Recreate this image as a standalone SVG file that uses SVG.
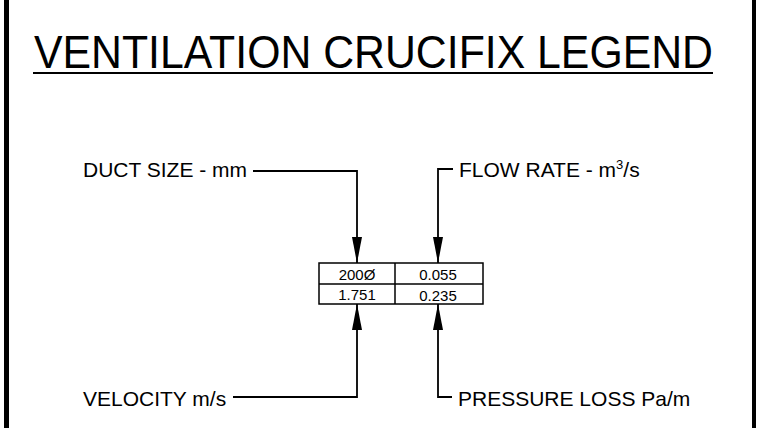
<svg xmlns="http://www.w3.org/2000/svg" width="764" height="428" viewBox="0 0 764 428">
<style>
text{font-family:"Liberation Sans",Arial,sans-serif;fill:#000}
.lbl{font-size:21px}
.cell{font-size:15px;text-anchor:middle}
.ln{fill:none;stroke:#000;stroke-width:1.8}
.tb{fill:none;stroke:#000;stroke-width:1.5}
</style>
<defs>
<marker id="ah" markerWidth="26" markerHeight="10" refX="26" refY="5" orient="auto" markerUnits="userSpaceOnUse" viewBox="0 0 26 10">
<path d="M0,0 L26,5 L0,10 Z" fill="#000"/>
</marker>
</defs>
<g id="frame">
<line x1="6.5" y1="0" x2="6.5" y2="428" stroke="#000" stroke-width="5"/>
<line x1="754" y1="0" x2="754" y2="428" stroke="#000" stroke-width="4"/>
</g>
<g id="title">
<text x="34" y="68" font-size="46" textLength="679" lengthAdjust="spacingAndGlyphs">VENTILATION CRUCIFIX LEGEND</text>
<line x1="33" y1="73" x2="713" y2="73" stroke="#000" stroke-width="2"/>
</g>
<g id="table">
<rect class="tb" x="319" y="263" width="164" height="41"/>
<line class="tb" x1="319" y1="284" x2="483" y2="284"/>
<line class="tb" x1="395" y1="263" x2="395" y2="304"/>
<text class="cell" x="357" y="280">200Ø</text>
<text class="cell" x="438" y="280">0.055</text>
<text class="cell" x="357" y="300">1.751</text>
<text class="cell" x="438" y="301">0.235</text>
</g>
<g id="duct-size"><text class="lbl" x="83" y="177">DUCT SIZE - mm</text></g>
<g id="flow-rate"><text class="lbl" x="459" y="177">FLOW RATE - m<tspan font-size="13" dy="-8">3</tspan><tspan dy="8">/s</tspan></text></g>
<g id="velocity"><text class="lbl" x="83" y="406">VELOCITY m/s</text></g>
<g id="pressure-loss"><text class="lbl" x="458" y="406">PRESSURE LOSS Pa/m</text></g>
<g id="connectors">
<path class="ln" d="M253,171 H357 V263" marker-end="url(#ah)"/>
<path class="ln" d="M453,169 H438 V263" marker-end="url(#ah)"/>
<path class="ln" d="M233,397 H357 V304" marker-end="url(#ah)"/>
<path class="ln" d="M452,397 H438 V304" marker-end="url(#ah)"/>
</g>
</svg>
